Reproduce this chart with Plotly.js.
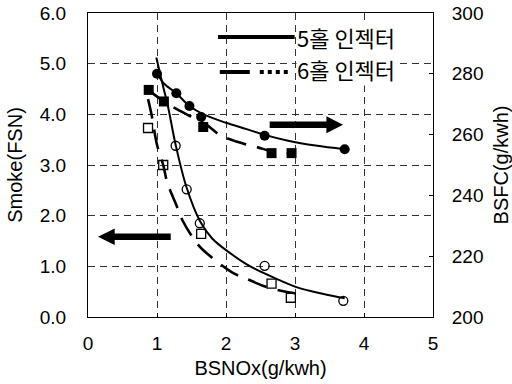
<!DOCTYPE html>
<html>
<head>
<meta charset="utf-8">
<script src="https://cdn.plot.ly/plotly-3.0.1.min.js"></script>
<style>html,body{margin:0;padding:0;background:#fff;}#chart{width:512px;height:384px;}</style>
</head>
<body>
<div id="chart"></div>
<script>
// ---- data ----
// BSFC (right axis), 5-hole injector, filled circles
const nox5Bsfc = [1.00, 1.28, 1.47, 1.64, 2.56, 3.72];
const bsfc5 = [280.0, 273.6, 269.4, 265.8, 259.6, 255.2];
// BSFC, 6-hole injector, filled squares
const nox6Bsfc = [0.88, 1.10, 1.67, 2.66, 2.95];
const bsfc6 = [274.7, 270.9, 262.5, 253.9, 253.9];
// Smoke (left axis), 5-hole injector, open circles
const nox5Smoke = [1.27, 1.43, 1.62, 2.56, 3.70];
const smoke5 = [3.38, 2.52, 1.85, 1.01, 0.32];
// Smoke, 6-hole injector, open squares
const nox6Smoke = [0.87, 1.09, 1.64, 2.66, 2.94];
const smoke6 = [3.73, 3.00, 1.64, 0.66, 0.38];

// fitted trend curves as traced on the reference
const fitNox5Bsfc = [0.99, 1.10, 1.28, 1.47, 1.70, 2.00, 2.30, 2.56, 2.90, 3.30, 3.72];
const fitBsfc5 = [280.7, 276.8, 273.6, 269.4, 266.4, 263.9, 261.8, 259.9, 258.0, 256.4, 255.2];
const fitNox6Bsfc = [0.87, 1.10, 1.26, 1.47, 1.70, 1.91, 2.15, 2.46, 2.70, 2.95];
const fitBsfc6 = [274.7, 270.9, 268.7, 266.2, 263.5, 259.9, 257.7, 255.8, 254.3, 253.8];
const fitNox5Smoke = [0.99, 1.08, 1.16, 1.27, 1.43, 1.62, 1.80, 2.05, 2.30, 2.56, 3.02, 3.40, 3.72];
const fitSmoke5 = [5.12, 4.60, 4.15, 3.40, 2.55, 1.90, 1.55, 1.27, 1.04, 0.86, 0.59, 0.46, 0.37];
const fitNox6Smoke = [0.87, 0.92, 1.00, 1.09, 1.15, 1.28, 1.38, 1.60, 1.79, 2.10, 2.32, 2.59, 2.83, 3.00];
const fitSmoke6 = [4.30, 4.00, 3.40, 3.00, 2.65, 2.21, 1.88, 1.42, 1.18, 0.87, 0.74, 0.59, 0.51, 0.47];

const xTicks = [0, 1, 2, 3, 4, 5];
const yTicks = [0, 1, 2, 3, 4, 5, 6];
const y2Ticks = [200, 220, 240, 260, 280, 300];
const legendLabels = ['5홀 인젝터', '6홀 인젝터'];
const xTitle = 'BSNOx(g/kwh)';
const yTitle = 'Smoke(FSN)';
const y2Title = 'BSFC(g/kwh)';

const dash6 = '20px,11px';
const traces = [
  {x: fitNox5Bsfc, y: fitBsfc5, yaxis: 'y2', mode: 'lines', line: {color: '#000', width: 2, shape: 'spline'}, showlegend: false},
  {x: fitNox6Bsfc, y: fitBsfc6, yaxis: 'y2', mode: 'lines', line: {color: '#000', width: 2.6, dash: dash6, shape: 'spline'}, showlegend: false},
  {x: fitNox5Smoke, y: fitSmoke5, mode: 'lines', line: {color: '#000', width: 2, shape: 'spline'}, showlegend: false},
  {x: fitNox6Smoke, y: fitSmoke6, mode: 'lines', line: {color: '#000', width: 2.6, dash: dash6, shape: 'spline'}, showlegend: false},
  {x: nox5Bsfc, y: bsfc5, yaxis: 'y2', mode: 'markers', marker: {symbol: 'circle', size: 10, color: '#000'}, showlegend: false},
  {x: nox6Bsfc, y: bsfc6, yaxis: 'y2', mode: 'markers', marker: {symbol: 'square', size: 10, color: '#000'}, showlegend: false},
  {x: nox5Smoke, y: smoke5, mode: 'markers', marker: {symbol: 'circle-open', size: 9, color: '#000', line: {width: 1.3}}, showlegend: false},
  {x: nox6Smoke, y: smoke6, mode: 'markers', marker: {symbol: 'square-open', size: 9, color: '#000', line: {width: 1.3}}, showlegend: false}
];

const font = 'Liberation Sans, Arial, sans-serif';
const axisCommon = {
  showline: true, linecolor: '#000', linewidth: 1,
  showgrid: true, gridcolor: '#333', gridwidth: 1, griddash: '7px,5px',
  zeroline: false, tickfont: {family: font, size: 19, color: '#000'}
};

const layout = {
  width: 512, height: 384,
  margin: {l: 88, r: 79, t: 13, b: 67, pad: 0},
  paper_bgcolor: '#fff', plot_bgcolor: '#fff',
  showlegend: false,
  font: {family: font, color: '#000'},
  xaxis: Object.assign({}, axisCommon, {
    range: [0, 5], tickvals: xTicks, ticktext: xTicks.map(String),
    mirror: true, ticks: 'inside', ticklen: 4, tickcolor: '#000', ticklabelstandoff: 9,
    title: {text: xTitle, font: {family: font, size: 20, color: '#000'}, standoff: 8}
  }),
  yaxis: Object.assign({}, axisCommon, {
    range: [0, 6], tickvals: yTicks, ticktext: yTicks.map(v => v.toFixed(1)),
    mirror: true, ticks: '', ticklabelstandoff: 17,
    title: {text: yTitle, font: {family: font, size: 20, color: '#000'}, standoff: 11}
  }),
  yaxis2: Object.assign({}, axisCommon, {
    range: [200, 300], tickvals: y2Ticks, ticktext: y2Ticks.map(String),
    overlaying: 'y', side: 'right', showgrid: false,
    ticks: 'inside', ticklen: 4, tickcolor: '#000', ticklabelstandoff: 14,
    title: {text: y2Title, font: {family: font, size: 20, color: '#000'}, standoff: 12}
  }),
  shapes: [
    // legend samples
    {type: 'line', xref: 'paper', yref: 'paper', x0: 0.377, x1: 0.599, y0: 0.921, y1: 0.921, line: {color: '#000', width: 4}},
    {type: 'line', xref: 'paper', yref: 'paper', x0: 0.382, x1: 0.59, y0: 0.806, y1: 0.806,
     line: {color: '#000', width: 4, dash: '30px,10px,4px,4px,4px,4px,4px,4px,4px,200px'}},
    // arrows
    {type: 'path', xref: 'x', yref: 'y', fillcolor: '#000', line: {width: 0},
     path: 'M 2.633,3.731 L 3.455,3.731 L 3.455,3.628 L 3.696,3.796 L 3.455,3.964 L 3.455,3.861 L 2.633,3.861 Z'},
    {type: 'path', xref: 'x', yref: 'y', fillcolor: '#000', line: {width: 0},
     path: 'M 1.199,1.518 L 0.387,1.518 L 0.387,1.419 L 0.145,1.584 L 0.387,1.749 L 0.387,1.650 L 1.199,1.650 Z'}
  ],
  annotations: [
    {xref: 'paper', yref: 'paper', x: 0.602, y: 0.920, xanchor: 'left', yanchor: 'middle', showarrow: false,
     text: legendLabels[0], bgcolor: '#fff', borderpad: 0, font: {family: 'Noto Sans CJK KR', size: 22, color: '#000'}},
    {xref: 'paper', yref: 'paper', x: 0.602, y: 0.816, xanchor: 'left', yanchor: 'middle', showarrow: false,
     text: legendLabels[1], bgcolor: '#fff', borderpad: 0, font: {family: 'Noto Sans CJK KR', size: 22, color: '#000'}}
  ]
};

Plotly.newPlot('chart', traces, layout, {staticPlot: true, displayModeBar: false});
</script>
</body>
</html>
